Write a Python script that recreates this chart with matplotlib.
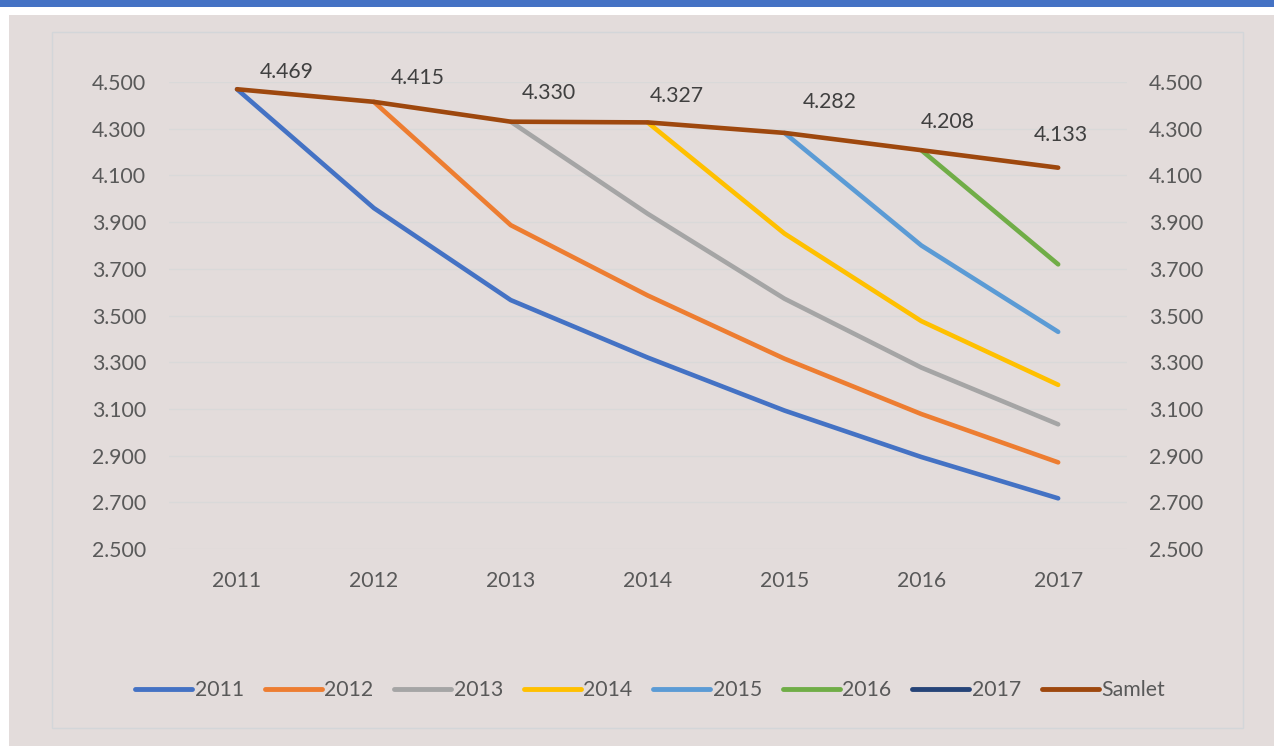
import matplotlib
matplotlib.use('Agg')
import matplotlib.pyplot as plt
from matplotlib.patches import Rectangle

plt.rcParams['font.family'] = ['Lato', 'DejaVu Sans']

years = [2011, 2012, 2013, 2014, 2015, 2016, 2017]
cohort_names = ['2011', '2012', '2013', '2014', '2015', '2016', '2017']
cohorts = [
    [4469, 3960, 3566, 3320, 3093, 2894, 2717],
    [None, 4415, 3887, 3586, 3315, 3078, 2871],
    [None, None, 4330, 3936, 3572, 3277, 3034],
    [None, None, None, 4327, 3851, 3476, 3203],
    [None, None, None, None, 4282, 3800, 3430],
    [None, None, None, None, None, 4208, 3719],
    [None, None, None, None, None, None, 4133],
]
samlet = [4469, 4415, 4330, 4327, 4282, 4208, 4133]

colors = ['#4472C4', '#ED7D31', '#A5A5A5', '#FFC000', '#5B9BD5', '#70AD47',
          '#264478']
samlet_color = '#9E480E'
# label offsets in pixels (dx, dy) for the Samlet data labels
label_offsets = [(50, 17), (44, 24), (38, 29), (29, 26), (45, 31), (26, 28), (3, 33)]
fs = 15.3

W, H = 1274, 746
fig = plt.figure(figsize=(W / 100, H / 100), dpi=100)
fig.patch.set_facecolor('white')
bg = '#E3DCDB'
fig.patches.append(Rectangle((9 / W, 0), 1 - 9 / W, 1 - 15 / H, transform=fig.transFigure,
                             facecolor=bg, edgecolor='none', zorder=-3))
fig.patches.append(Rectangle((0, 1 - 7 / H), 1, 7 / H, transform=fig.transFigure,
                             facecolor='#4472C4', edgecolor='none', zorder=-3))
fig.patches.append(Rectangle((52 / W, 1 - 728 / H), (1243 - 52) / W, (728 - 32) / H,
                             transform=fig.transFigure, facecolor='none',
                             edgecolor='#D3D6D9', lw=1.0, zorder=-2))

left, right = 168.6 / W, 1126.6 / W
bottom, top = 1 - 549 / H, 1 - 82 / H
ax = fig.add_axes([left, bottom, right - left, top - bottom])
ax.set_facecolor('none')
ax.set_zorder(5)

x = list(range(len(years)))
for name, vals, c in zip(cohort_names, cohorts, colors):
    xs = [i for i, v in zip(x, vals) if v is not None]
    ys = [v for v in vals if v is not None]
    ax.plot(xs, ys, color=c, lw=3.3, label=name, solid_capstyle='round',
            solid_joinstyle='round')
ax.plot(x, samlet, color=samlet_color, lw=3.3, label='Samlet',
        solid_capstyle='round', solid_joinstyle='round')

for i, v in enumerate(samlet):
    dx, dy = label_offsets[i]
    ax.annotate('{:,}'.format(v).replace(',', '.'), (i, v), xytext=(dx, dy),
                textcoords='offset pixels', ha='center', va='center',
                fontsize=fs, color='#404040')

ax.set_xlim(-0.5, len(years) - 0.5)
ax.set_ylim(2500, 4500)
yt = list(range(2500, 4501, 200))
ax.set_yticks(yt)
ax.set_yticklabels(['{:,}'.format(t).replace(',', '.') for t in yt])
ax.set_xticks(x)
ax.set_xticklabels([str(y) for y in years])
ax.tick_params(axis='y', length=0, pad=16, labelsize=fs, labelcolor='#595959',
               labelright=True)
ax.tick_params(axis='x', length=0, pad=16, labelsize=fs, labelcolor='#595959')
ax.grid(axis='y', color='#D9D9D9', lw=1.0)
ax.set_axisbelow(True)
for s in ax.spines.values():
    s.set_visible(False)

leg = ax.legend(loc='center', bbox_to_anchor=(650 / W, 1 - 690 / H),
                bbox_transform=fig.transFigure, ncol=8, frameon=False,
                fontsize=fs, handlelength=2.7, handletextpad=0.1,
                columnspacing=0.98, labelcolor='#595959')
for line in leg.get_lines():
    line.set_solid_capstyle('round')
    line.set_linewidth(3.5)

fig.savefig('out.png', dpi=100, facecolor=fig.get_facecolor())
